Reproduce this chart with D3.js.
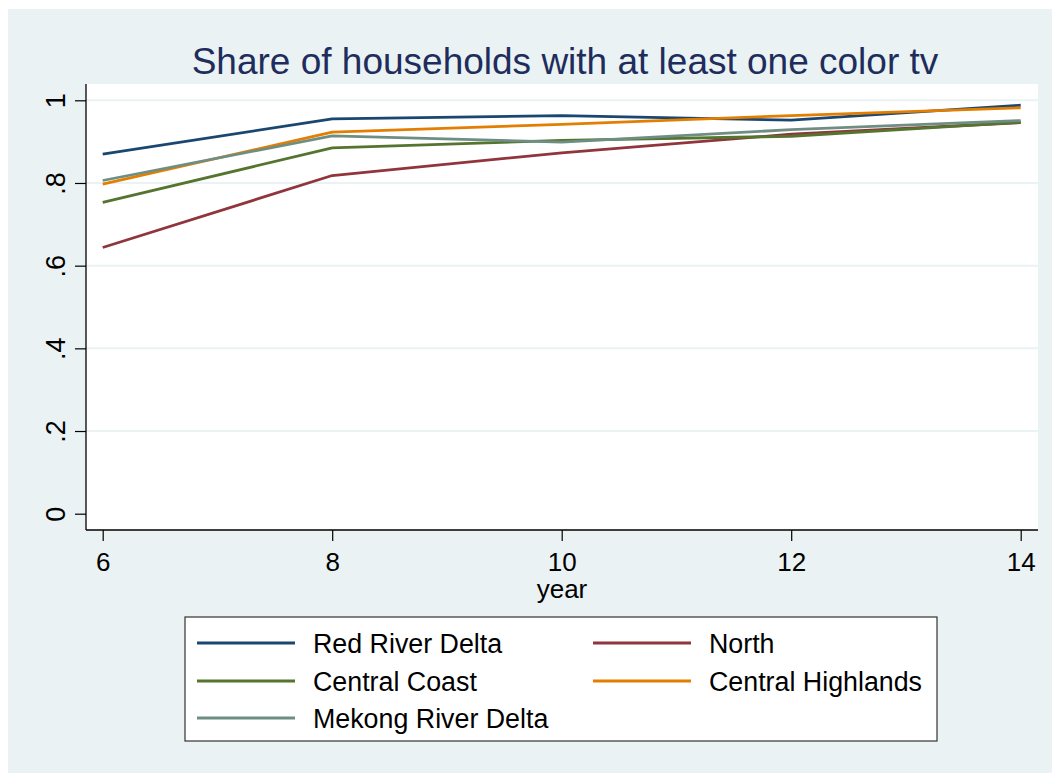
<!DOCTYPE html>
<html>
<head>
<meta charset="utf-8">
<script src="https://cdn.jsdelivr.net/npm/d3@7"></script>
<style>
  html, body { margin: 0; padding: 0; background: #ffffff; }
  svg { display: block; font-family: "Liberation Sans", Arial, sans-serif; }
</style>
</head>
<body>
<svg id="chart" width="1052" height="773"></svg>
<script>
// ---- data ----
const years = [6, 8, 10, 12, 14];
const seriesNames = ["Red River Delta", "North", "Central Coast", "Central Highlands", "Mekong River Delta"];
const redRiverDelta    = [0.870, 0.955, 0.963, 0.952, 0.988];
const north            = [0.644, 0.818, 0.873, 0.918, 0.946];
const centralCoast     = [0.753, 0.885, 0.903, 0.913, 0.947];
const centralHighlands = [0.797, 0.923, 0.942, 0.963, 0.982];
const mekongRiverDelta = [0.806, 0.914, 0.899, 0.929, 0.951];
const yTickValues = [0, 0.2, 0.4, 0.6, 0.8, 1];
const yTickLabels = ["0", ".2", ".4", ".6", ".8", "1"];
const xTickValues = [6, 8, 10, 12, 14];
const xTickLabels = ["6", "8", "10", "12", "14"];
const colors = ["#1a476f", "#90353b", "#55752f", "#e37e00", "#6e8e84"];

const seriesValues = [redRiverDelta, north, centralCoast, centralHighlands, mekongRiverDelta];

// ---- layout ----
const svg = d3.select("#chart");
const bg = "#eaf2f3";
const plot = { left: 86, top: 84, right: 1038, bottom: 530 };

svg.append("rect").attr("x", 8).attr("y", 9).attr("width", 1052 - 8).attr("height", 773 - 9).attr("fill", bg);
svg.append("rect").attr("x", plot.left).attr("y", plot.top)
  .attr("width", plot.right - plot.left).attr("height", plot.bottom - plot.top).attr("fill", "#ffffff");

const x = d3.scaleLinear().domain([6, 14]).range([102.7, 1020.7]);
const y = d3.scaleLinear().domain([0, 1]).range([513.7, 100.3]);

// gridlines
svg.append("g").selectAll("line")
  .data(yTickValues.filter(v => v > 0))
  .join("line")
  .attr("x1", plot.left).attr("x2", plot.right)
  .attr("y1", d => y(d)).attr("y2", d => y(d))
  .attr("stroke", bg).attr("stroke-width", 2);

// lines
const line = d3.line().x((d, i) => x(years[i])).y(d => y(d));
svg.append("g").selectAll("path")
  .data(seriesValues)
  .join("path")
  .attr("d", d => line(d))
  .attr("fill", "none")
  .attr("stroke", (d, i) => colors[i])
  .attr("stroke-width", 2.8)
  .attr("stroke-linejoin", "round");

// x axis
const xAxis = d3.axisBottom(x).tickValues(xTickValues)
  .tickFormat((d, i) => xTickLabels[i]).tickSize(11).tickPadding(12).tickSizeOuter(0);
const gx = svg.append("g").attr("transform", `translate(0,${plot.bottom})`).call(xAxis);
gx.select(".domain").attr("d", `M${plot.left},0H${plot.right}`).attr("stroke", "#000").attr("stroke-width", 1.3);
gx.selectAll(".tick line").attr("stroke", "#000").attr("stroke-width", 1.2);
gx.selectAll(".tick text").attr("font-size", 26).attr("fill", "#000")
  .attr("font-family", "'Liberation Sans', Arial, sans-serif");

// y axis
const yAxis = d3.axisLeft(y).tickValues(yTickValues)
  .tickFormat((d, i) => yTickLabels[i]).tickSize(11).tickSizeOuter(0);
const gy = svg.append("g").attr("transform", `translate(${plot.left},0)`).call(yAxis);
gy.select(".domain").attr("d", `M0,${plot.top}V${plot.bottom}`).attr("stroke", "#000").attr("stroke-width", 1.3);
gy.selectAll(".tick line").attr("stroke", "#000").attr("stroke-width", 1.2);
gy.selectAll(".tick text")
  .attr("x", null).attr("dy", null)
  .attr("text-anchor", "middle")
  .attr("transform", "translate(-21,0) rotate(-90)")
  .attr("font-size", 27).attr("fill", "#000")
  .attr("font-family", "'Liberation Sans', Arial, sans-serif");

// title
svg.append("text").attr("x", (plot.left + plot.right) / 2 + 3).attr("y", 74)
  .attr("text-anchor", "middle").attr("font-size", 37).attr("fill", "#1e2d5c")
  .text("Share of households with at least one color tv");

// x axis title
svg.append("text").attr("x", (plot.left + plot.right) / 2).attr("y", 598)
  .attr("text-anchor", "middle").attr("font-size", 26).attr("fill", "#000")
  .text("year");

// legend
const lg = svg.append("g");
lg.append("rect").attr("x", 185).attr("y", 617).attr("width", 937 - 185).attr("height", 741 - 617)
  .attr("fill", "#fff").attr("stroke", "#333").attr("stroke-width", 1.2);
const colX = [197, 593];
const rowY = [643, 681, 718];
const items = lg.selectAll("g.item").data(seriesNames).join("g").attr("class", "item")
  .attr("transform", (d, i) => `translate(${colX[i % 2]},${rowY[Math.floor(i / 2)]})`);
items.append("line").attr("x1", 0).attr("x2", 98).attr("y1", 0).attr("y2", 0)
  .attr("stroke", (d, i) => colors[i]).attr("stroke-width", 2.8);
items.append("text").attr("x", 116).attr("y", 9.5).attr("font-size", 26.8).attr("fill", "#000")
  .text(d => d);
</script>
</body>
</html>
